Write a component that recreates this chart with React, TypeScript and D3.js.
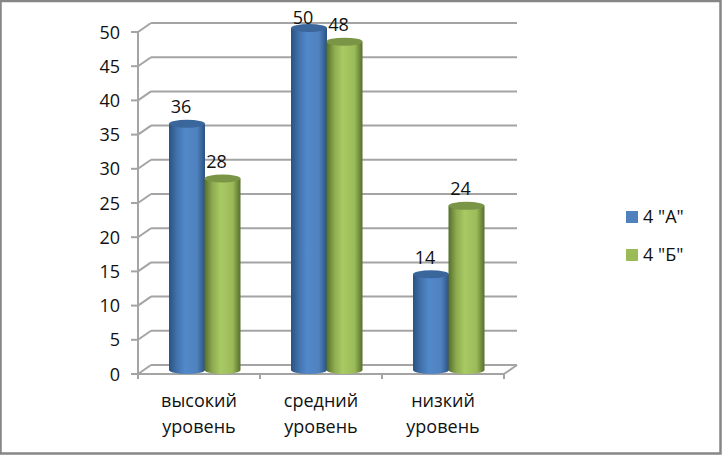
import React from "react";
import { scaleBand, scaleLinear, range } from "d3";

const categories = [
  ["высокий", "уровень"],
  ["средний", "уровень"],
  ["низкий", "уровень"],
];
const seriesNames = ['4 "А"', '4 "Б"'];
const seriesA = [36, 50, 14];
const seriesB = [28, 48, 24];
const yTicks = range(0, 51, 5);

const WIDTH = 722;
const HEIGHT = 455;
const FONT = "'Open Sans', sans-serif";
const FONT_SIZE = 18;
const GRID = "#a4a4a4";
const GRID_W = 2;
const depthX = 13;
const depthY = 9;

const palette = [
  { id: "blue", mid: "#5289cb", top: "#3a669c", flat: "#4f81bd", dark: "#2b5282", shade: "#4272ac" },
  { id: "green", mid: "#a8ca64", top: "#7b9546", flat: "#9bbb59", dark: "#566e2c", shade: "#8eab50" },
];

const y = scaleLinear().domain([0, 50]).range([374, 32]);
const x0 = scaleBand<number>().domain([0, 1, 2]).range([138, 504]);
const x1 = scaleBand<number>().domain([0, 1]).range([0, 71]);

const barW = 36;
const rx = barW / 2;
const ry = 4;

// cylinder body + top cap for one value
const Cylinder = ({ cat, s, value }: { cat: number; s: number; value: number }) => {
  const left = x0(cat)! + (x0.bandwidth() - 71) / 2 + 5.5 + x1(s)!;
  const yTop = y(value) - 4;
  const yBot = y(0) - 4;
  const c = palette[s];
  const body = `M${left},${yTop} L${left},${yBot} A${rx},${ry} 0 0 0 ${left + barW},${yBot} L${left + barW},${yTop} Z`;
  return (
    <g>
      <path d={body} fill={`url(#grad-${c.id})`} />
      <ellipse cx={left + rx} cy={yTop} rx={rx} ry={ry} fill={c.top} />
      <text
        x={left + rx - 6}
        y={Math.max(yTop - 10.5, 24)}
        textAnchor="middle"
        fontSize={FONT_SIZE}
        fontFamily={FONT}
        fill="#111"
      >
        {value}
      </text>
    </g>
  );
};

export default function App() {
  return (
    <svg
      width={WIDTH}
      height={HEIGHT}
      style={{ position: "absolute", left: 0, top: 0, background: "#fff" }}
    >
      <defs>
        {palette.map((c) => (
          <linearGradient key={c.id} id={`grad-${c.id}`} x1="0" x2="1" y1="0" y2="0">
            <stop offset="0%" stopColor={c.dark} />
            <stop offset="22%" stopColor={c.shade} />
            <stop offset="45%" stopColor={c.mid} />
            <stop offset="78%" stopColor={c.flat} />
            <stop offset="100%" stopColor={c.dark} />
          </linearGradient>
        ))}
      </defs>

      <rect x={0.5} y={1} width={WIDTH - 2} height={HEIGHT - 2.5} fill="#fff" stroke="#868686" strokeWidth={2.5} />

      {/* walls and gridlines */}
      {yTicks.map((t) => (
        <g key={t}>
          <line x1={131} x2={138} y1={y(t)} y2={y(t)} stroke={GRID} strokeWidth={GRID_W} />
          <line x1={138} x2={138 + depthX} y1={y(t)} y2={y(t) - depthY} stroke={GRID} strokeWidth={GRID_W} />
          <line x1={138 + depthX} x2={504 + depthX} y1={y(t) - depthY} y2={y(t) - depthY} stroke={GRID} strokeWidth={GRID_W} />
          <text x={120} y={y(t) + 6.5} textAnchor="end" fontSize={FONT_SIZE} fontFamily={FONT} fill="#111">
            {t}
          </text>
        </g>
      ))}
      <line x1={138} x2={138} y1={y(50)} y2={y(0) + 5} stroke={GRID} strokeWidth={GRID_W} />
      <line x1={138} x2={504} y1={y(0)} y2={y(0)} stroke={GRID} strokeWidth={GRID_W} />
      <line x1={504} x2={504 + depthX} y1={y(0)} y2={y(0) - depthY} stroke={GRID} strokeWidth={GRID_W} />
      {[1, 2, 3].map((i) => (
        <line key={i} x1={138 + i * x0.step()} x2={138 + i * x0.step()} y1={y(0)} y2={y(0) + 5} stroke={GRID} strokeWidth={GRID_W} />
      ))}

      {/* bars */}
      {categories.map((_, i) => (
        <g key={i}>
          <Cylinder cat={i} s={0} value={seriesA[i]} />
          <Cylinder cat={i} s={1} value={seriesB[i]} />
        </g>
      ))}

      {/* category labels */}
      {categories.map((lines, i) => (
        <text
          key={i}
          textAnchor="middle"
          fontSize={FONT_SIZE}
          fontFamily={FONT}
          fill="#111"
        >
          {lines.map((l, k) => (
            <tspan key={k} x={x0(i)! + x0.bandwidth() / 2} y={407 + k * 26}>
              {l}
            </tspan>
          ))}
        </text>
      ))}

      {/* legend */}
      {seriesNames.map((name, i) => (
        <g key={name}>
          <rect x={626} y={211 + i * 38} width={12} height={12} fill={palette[i].flat} />
          <text x={643} y={223 + i * 38} fontSize={FONT_SIZE} fontFamily={FONT} fill="#111">
            {name}
          </text>
        </g>
      ))}
    </svg>
  );
}
